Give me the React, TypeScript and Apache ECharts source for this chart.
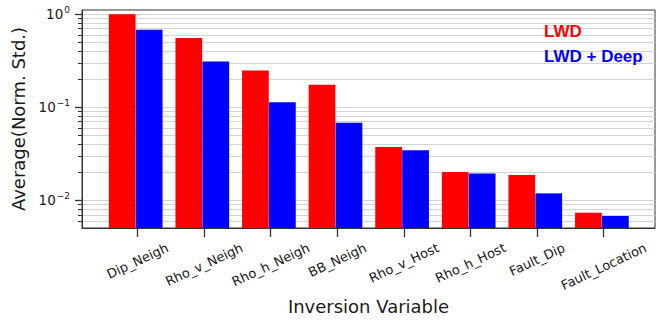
import React, { useEffect, useRef } from "react";
import * as echarts from "echarts";

const categories = [
  "Dip_Neigh",
  "Rho_v_Neigh",
  "Rho_h_Neigh",
  "BB_Neigh",
  "Rho_v_Host",
  "Rho_h_Host",
  "Fault_Dip",
  "Fault_Location",
];
const lwd = [1.0, 0.554, 0.248, 0.175, 0.0374, 0.0202, 0.0187, 0.00737];
const lwdDeep = [0.68, 0.311, 0.1135, 0.0683, 0.0345, 0.0194, 0.0119, 0.0068];
const majorTicks = [0.01, 0.1, 1];
const minorTicks = [
  0.006, 0.007, 0.008, 0.009,
  0.02, 0.03, 0.04, 0.05, 0.06, 0.07, 0.08, 0.09,
  0.2, 0.3, 0.4, 0.5, 0.6, 0.7, 0.8, 0.9,
];
const categoryTicks = [0, 1, 2, 3, 4, 5, 6, 7];
const yMin = 0.00505;
const yMax = 1.11;
const xMin = -0.834;
const xMax = 7.77;
const redOffset = -0.23;
const blueOffset = 0.175;

const FONT = "DejaVu Sans";
const TEXT = "#1a1a1a";
const LABEL_SIZE = 13;
const LABEL_ROT = 25;

export default function App() {
  const ref = useRef<HTMLDivElement>(null);
  useEffect(() => {
    if (!ref.current) return;
    const chart = echarts.init(ref.current, null, { renderer: "svg" });
    const supFmt = (v: number) => {
      const e = Math.round(Math.log10(v));
      const s = e < 0 ? "\u2212" + -e : String(e);
      return `{b|10}{s|${s}}`;
    };
    chart.setOption({
      animation: false,
      backgroundColor: "#ffffff",
      grid: {
        left: 82,
        right: 10,
        top: 10,
        bottom: 91,
        show: true,
        borderColor: "#333",
        borderWidth: 1,
        backgroundColor: "transparent",
      },
      legend: {
        orient: "vertical",
        left: 534,
        top: 18,
        icon: "none",
        itemWidth: 0,
        itemHeight: 10,
        itemGap: 8,
        selectedMode: false,
        textStyle: {
          fontSize: 17,
          fontWeight: "bold",
          fontFamily: "Liberation Sans, Arial, sans-serif",
        },
        data: [
          { name: "LWD", textStyle: { color: "#ff0000" } },
          { name: "LWD + Deep", textStyle: { color: "#0000ff" } },
        ],
      },
      xAxis: {
        type: "value",
        min: xMin,
        max: xMax,
        name: "Inversion Variable",
        nameLocation: "middle",
        nameGap: 69,
        nameTextStyle: { fontSize: 18, fontFamily: FONT, color: TEXT },
        splitLine: { show: false },
        axisLine: { onZero: false, lineStyle: { color: "#333", width: 1 } },
        axisTick: {
          show: true,
          customValues: categoryTicks,
          length: 9,
          lineStyle: { color: "#333", width: 1.3 },
        },
        axisLabel: { show: false },
      },
      yAxis: [
        {
          type: "log",
          position: "left",
          min: yMin,
          max: yMax,
          startValue: yMin,
          name: "Average(Norm. Std.)",
          nameLocation: "middle",
          nameRotate: 90,
          nameGap: 45,
          nameTextStyle: { fontSize: 18, fontFamily: FONT, color: TEXT },
          axisLine: { show: true, onZero: false, lineStyle: { color: "#333", width: 1 } },
          axisTick: {
            show: true,
            customValues: majorTicks,
            length: 7,
            lineStyle: { color: "#333", width: 1.3 },
          },
          axisLabel: {
            customValues: majorTicks,
            formatter: supFmt,
            margin: 12,
            rich: {
              b: { fontSize: 13.5, fontFamily: FONT, color: TEXT, lineHeight: 17 },
              s: {
                fontSize: 9,
                fontFamily: FONT,
                color: TEXT,
                lineHeight: 9,
                padding: [0, 0, 8, 1],
              },
            },
          },
          splitLine: { show: false },
        },
        {
          type: "log",
          position: "left",
          offset: 0,
          min: yMin,
          max: yMax,
          startValue: yMin,
          axisLine: { show: false, onZero: false },
          axisTick: {
            show: true,
            customValues: [...minorTicks, ...majorTicks],
            length: 4,
            lineStyle: { color: "#333", width: 1 },
          },
          axisLabel: { show: false },
          splitLine: {
            show: true,
            lineStyle: { color: "#d4d4d4", width: 1.2 },
          },
        },
      ],
      series: [
        {
          type: "bar",
          name: "LWD",
          yAxisIndex: 0,
          data: lwd.map((v, i) => [i + redOffset, v]),
          barWidth: 26.7,
          barGap: "-100%",
          itemStyle: { color: "#ff0000" },
          z: 3,
        },
        {
          type: "bar",
          name: "LWD + Deep",
          yAxisIndex: 0,
          data: lwdDeep.map((v, i) => [i + blueOffset, v]),
          barWidth: 26.7,
          barGap: "-100%",
          itemStyle: { color: "#0000ff" },
          z: 3,
        },
      ],
    });

    // Category tick labels, rotated like matplotlib (centered on tick, bbox top below tick)
    const canvas = document.createElement("canvas");
    const ctx = canvas.getContext("2d");
    if (ctx) ctx.font = `${LABEL_SIZE}px "${FONT}"`;
    const th = (LABEL_ROT * Math.PI) / 180;
    const axisY = chart.convertToPixel({ yAxisIndex: 0 }, yMin) as number;
    const labelTop = axisY + 13;
    const labels = categoryTicks.map((t) => {
      const name = categories[t];
      const w = ctx ? ctx.measureText(name).width : name.length * 7.5;
      const bboxH = w * Math.sin(th) + LABEL_SIZE * Math.cos(th);
      const px = chart.convertToPixel({ xAxisIndex: 0 }, t) as number;
      return {
        type: "text",
        x: px,
        y: labelTop + bboxH / 2,
        rotation: th,
        silent: true,
        style: {
          text: name,
          fontSize: LABEL_SIZE,
          fontFamily: FONT,
          fill: TEXT,
          align: "center",
          verticalAlign: "middle",
        },
      };
    });
    chart.setOption({ graphic: labels });
    return () => chart.dispose();
  }, []);
  return (
    <div
      ref={ref}
      style={{ position: "fixed", left: 0, top: 0, width: 665, height: 320 }}
    />
  );
}
